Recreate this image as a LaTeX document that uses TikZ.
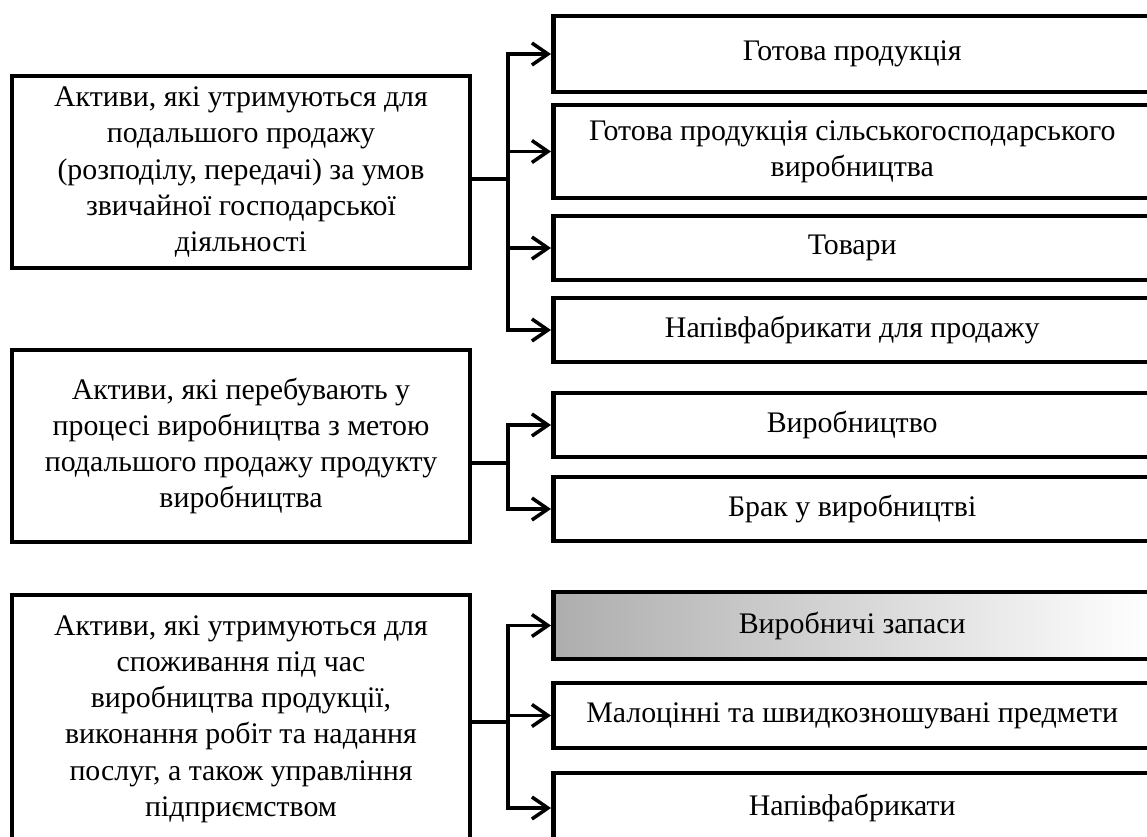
\documentclass[tikz,border=0pt]{standalone}
\usepackage{fontspec}
\setmainfont{Liberation Serif}
\usetikzlibrary{positioning}
\usetikzlibrary{arrows.meta}

\begin{document}
\begin{tikzpicture}[x=0.02cm, y=-0.02cm, >={Straight Barb[length=3.2mm,width=4.4mm]},
  every node/.style={rectangle, draw, line width=2.6pt, align=center, inner sep=0pt, font=\fontsize{17}{20.6}\selectfont},
  leftbox/.style={minimum width=9.16cm, minimum height=3.84cm},
  rightbox/.style={anchor=west, minimum width=11.96cm, minimum height=1.28cm},
  link/.style={line width=2pt}]

\useasboundingbox (0,0) rectangle (1147,836);

% Nodes
\node[leftbox] (l1) at (241,172) {Активи, які утримуються для\\подальшого продажу\\(розподілу, передачі) за умов\\звичайної господарської\\діяльності};
\node[leftbox] (l2) at (241,446) {Активи, які перебувають у\\процесі виробництва з метою\\подальшого продажу продукту\\виробництва};
\node[leftbox, minimum height=4.96cm] (l3) at (241,719) {Активи, які утримуються для\\споживання під час\\виробництва продукції,\\виконання робіт та надання\\послуг, а також управління\\підприємством};

\node[rightbox, minimum height=1.52cm] (r1) at (551,54) {Готова продукція};
\node[rightbox, minimum height=1.86cm] (r2) at (551,151.5) {Готова продукція сільськогосподарського\\виробництва};
\node[rightbox] (r3) at (551,248) {Товари};
\node[rightbox] (r4) at (551,330) {Напівфабрикати для продажу};
\node[rightbox] (r5) at (551,425) {Виробництво};
\node[rightbox] (r6) at (551,509) {Брак у виробництві};
\node[rightbox, minimum height=1.34cm, left color=black!32, right color=white] (r7) at (551,625.5) {Виробничі запаси};
\node[rightbox, minimum height=1.3cm] (r8) at (551,715.5) {Малоцінні та швидкозношувані предмети};
\node[rightbox, minimum height=1.4cm] (r9) at (551,808) {Напівфабрикати};

\coordinate (j1) at (508,179);
\coordinate (j2) at (508,463);
\coordinate (j3) at (508,722);

% Arrows
\draw[link] (l1.east |- j1) -- (j1);
\draw[link, ->] (j1) |- (r1.west);
\draw[link, ->] (j1) |- (r2.west);
\draw[link, ->] (j1) |- (r3.west);
\draw[link, ->] (j1) |- (r4.west);

\draw[link] (l2.east |- j2) -- (j2);
\draw[link, ->] (j2) |- (r5.west);
\draw[link, ->] (j2) |- (r6.west);

\draw[link] (l3.east |- j3) -- (j3);
\draw[link, ->] (j3) |- (r7.west);
\draw[link, ->] (j3) |- (r8.west);
\draw[link, ->] (j3) |- (r9.west);

\end{tikzpicture}
\end{document}
